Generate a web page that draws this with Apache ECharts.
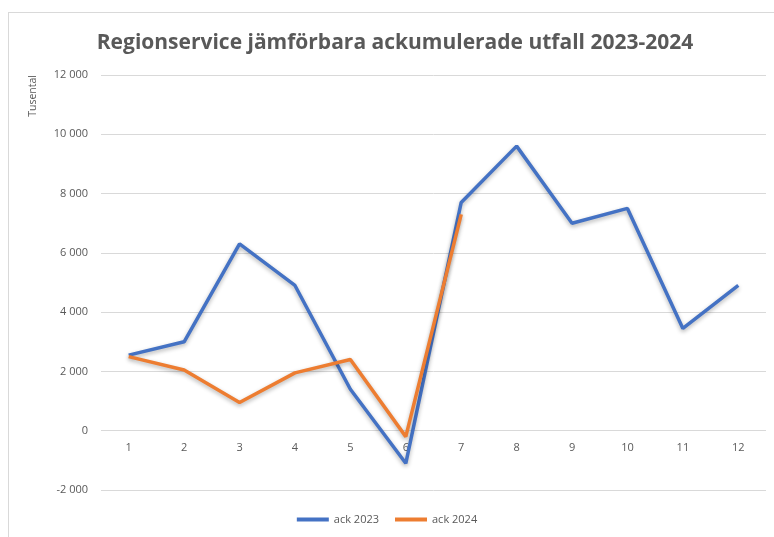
<!DOCTYPE html>
<html>
<head>
<meta charset="utf-8">
<script src="https://cdn.jsdelivr.net/npm/echarts@6/dist/echarts.min.js"></script>
<style>
  html, body { margin: 0; padding: 0; background: #fff; }
  #frame { position: absolute; left: 8px; top: 12px; width: 800px; height: 600px; border: 1px solid #d9d9d9; }
  #chart { position: absolute; left: 0; top: 0; width: 774px; height: 537px; }
</style>
</head>
<body>
<div id="frame"></div>
<div id="chart"></div>
<script>
// månader
const months = ['1', '2', '3', '4', '5', '6', '7', '8', '9', '10', '11', '12']
// ackumulerat utfall, tusental
const ack2023 = [2550, 3000, 6300, 4900, 1400, -1100, 7700, 9600, 7000, 7500, 3450, 4900]
const ack2024 = [2500, 2050, 950, 1950, 2400, -200, 7300]

const textColor = '#595959'

let chart = echarts.init(document.getElementById('chart'))
let option = {
  animation: false,
  title: {
    text: 'Regionservice jämförbara ackumulerade utfall 2023-2024',
    left: 390,
    textAlign: 'center',
    top: 28,
    textStyle: {
      fontFamily: 'Open Sans',
      fontSize: 21,
      fontWeight: 'bold',
      color: textColor
    }
  },
  legend: {
    data: ['ack 2023', 'ack 2024'],
    left: 'center',
    bottom: 7,
    itemWidth: 32,
    itemHeight: 4,
    itemGap: 16,
    icon: 'rect',
    textStyle: { fontFamily: 'Open Sans', fontSize: 11, color: textColor }
  },
  grid: {
    left: 101,
    right: 8,
    top: 75,
    bottom: 47
  },
  xAxis: {
    type: 'category',
    data: months,
    boundaryGap: true,
    axisLine: { show: false },
    axisTick: { show: false },
    // etiketterna ligger vid nollinjen, som i Excel
    axisLabel: { color: textColor, fontFamily: 'Open Sans', fontSize: 11, margin: -48 }
  },
  yAxis: {
    type: 'value',
    min: -2000,
    max: 12000,
    interval: 2000,
    name: 'Tusental',
    nameLocation: 'end',
    nameRotate: 90,
    nameGap: 0,
    nameTextStyle: { color: textColor, fontFamily: 'Open Sans', fontSize: 10.5, align: 'right', verticalAlign: 'bottom', padding: [0, 0, 62, 0] },
    axisLine: { show: false },
    axisTick: { show: false },
    axisLabel: {
      color: textColor,
      fontFamily: 'Open Sans',
      fontSize: 11,
      margin: 13,
      formatter: v => String(v).replace(/\B(?=(\d{3})+(?!\d))/g, ' ')
    },
    splitLine: { lineStyle: { color: '#d9d9d9', width: 1 } }
  },
  series: [
    {
      name: 'ack 2023',
      type: 'line',
      data: ack2023,
      showSymbol: false,
      symbol: 'none',
      itemStyle: { color: '#4472C4' },
      lineStyle: { width: 3.5, color: '#4472C4', shadowColor: 'rgba(0,0,0,0.3)', shadowBlur: 4, shadowOffsetY: 2 }
    },
    {
      name: 'ack 2024',
      type: 'line',
      data: ack2024,
      showSymbol: false,
      symbol: 'none',
      itemStyle: { color: '#ED7D31' },
      lineStyle: { width: 3.5, color: '#ED7D31', shadowColor: 'rgba(0,0,0,0.3)', shadowBlur: 4, shadowOffsetY: 2 }
    }
  ]
}
chart.setOption(option)
</script>
</body>
</html>
